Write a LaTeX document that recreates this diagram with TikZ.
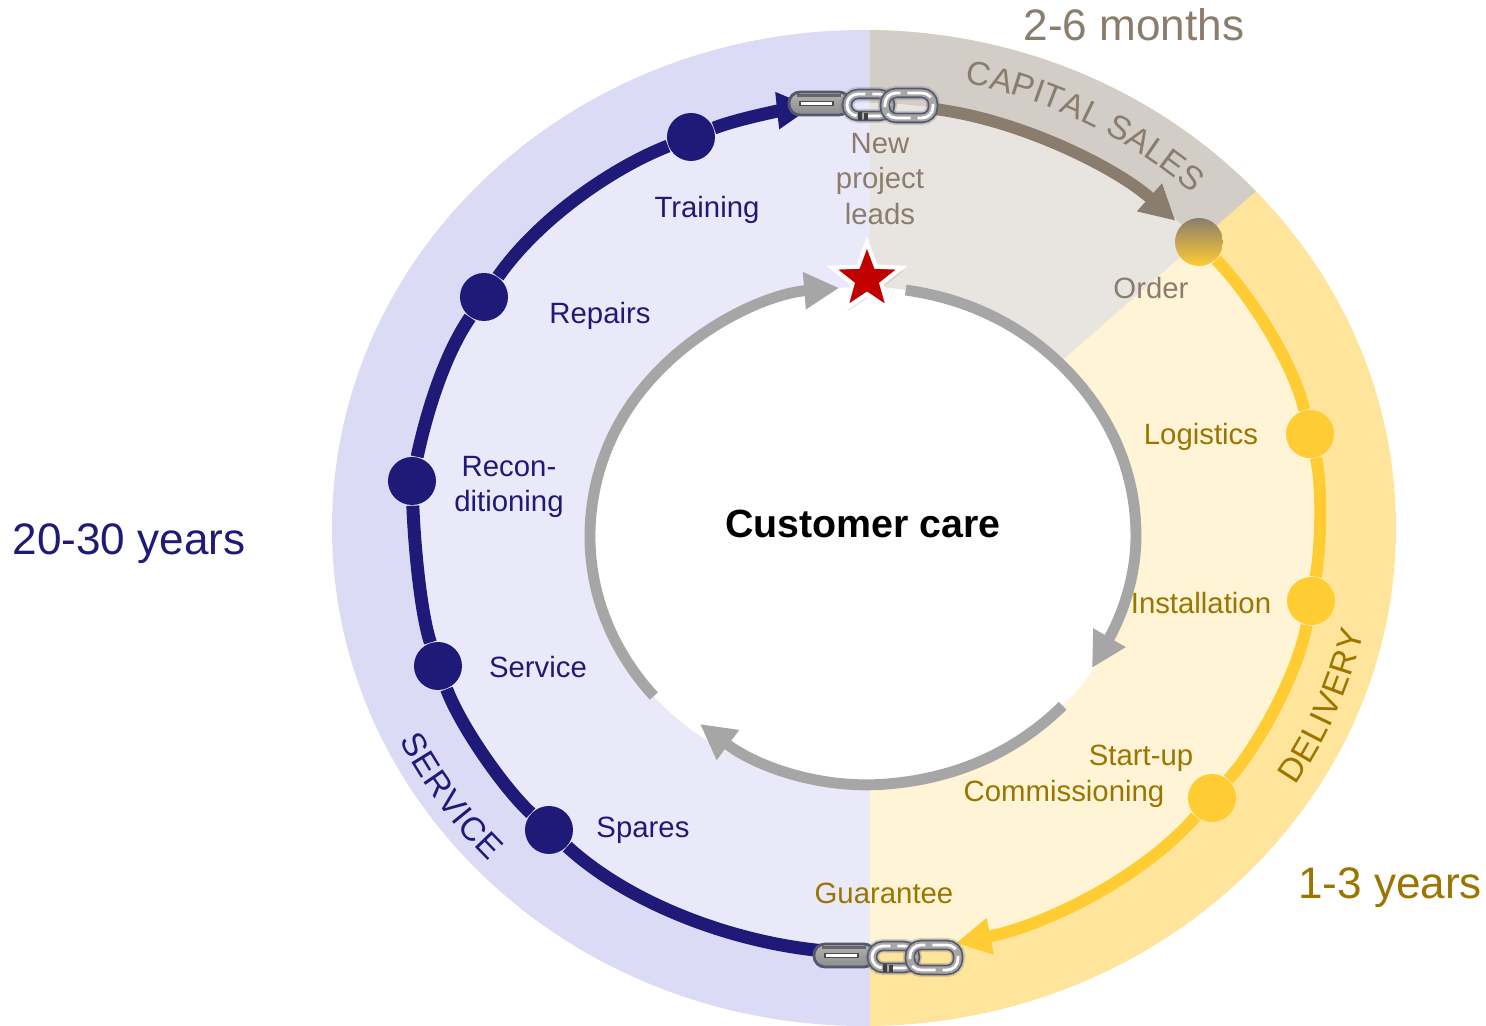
\documentclass[tikz,border=0pt]{standalone}
\usepackage{fontspec}
\setmainfont{Liberation Sans}
\usepackage{xcolor}
\usepackage{tikz}
\usetikzlibrary{shapes.geometric, arrows.meta, shadows, decorations.text}
\definecolor{serviceline}{RGB}{31, 26, 120}
\definecolor{servicedark}{RGB}{220, 219, 245}
\definecolor{servicelight}{RGB}{234, 233, 249}
\definecolor{salesline}{RGB}{139, 125, 109}
\definecolor{salesdark}{RGB}{210, 205, 199}
\definecolor{saleslight}{RGB}{232, 229, 225}
\definecolor{deliveryline}{RGB}{255, 204, 51}
\definecolor{deliverydark}{RGB}{254, 229, 155}
\definecolor{deliverylight}{RGB}{255, 244, 214}
\definecolor{deliverytext}{RGB}{156, 117, 0}
\definecolor{careline}{RGB}{166, 166, 166}
\definecolor{starred}{RGB}{192, 0, 0}
\definecolor{steeldark}{RGB}{84, 88, 110}
\newcommand{\itemfont}{\fontsize{8.35}{10.1}\selectfont}
\newcommand{\spanfont}{\fontsize{12.55}{15}\selectfont}
\newcommand{\phasefont}{\fontsize{9.5}{11}\selectfont}
\tikzstyle{servicedot} = [circle, inner sep=0pt, minimum size=0.48cm, fill=serviceline]
\tikzstyle{deliverydot} = [circle, inner sep=0pt, minimum size=0.48cm, fill=deliveryline]
\tikzstyle{orderdot} = [circle, inner sep=0pt, minimum size=0.48cm, top color=salesline, bottom color=deliveryline]
\tikzstyle{servicetext} = [font=\itemfont, text=serviceline, align=center, inner sep=0pt]
\tikzstyle{salestext} = [font=\itemfont, text=salesline, align=center, inner sep=0pt]
\tikzstyle{deliverytxt} = [font=\itemfont, text=deliverytext, align=center, inner sep=0pt]
\tikzstyle{ringtip} = [-{Triangle[length=3.5mm,width=3.5mm]}]
\tikzstyle{servicearc} = [line width=3.7pt, serviceline]
\tikzstyle{salesarc} = [ringtip, line width=3.4pt, salesline, shorten >=0.07cm]
\tikzstyle{deliveryarc} = [line width=3.4pt, deliveryline]
\tikzstyle{carearc} = [ringtip, line width=3.1pt, careline, looseness=0.9]
\tikzstyle{linkshadow} = [gray, opacity=0.3, line width=4pt, rounded corners=0.11cm]
\tikzstyle{linkedge} = [steeldark, line width=3pt, rounded corners=0.11cm]
\tikzstyle{linkbody} = [black!35, line width=2pt, rounded corners=0.11cm]
\tikzstyle{linkshine} = [white, line width=0.8pt, dash pattern=on 7pt off 2pt, rounded corners=0.11cm]
\tikzset{
  pics/steelchain/.style={code={
    % left link, seen from the side
    \fill[linkshadow] (-0.75,-0.11) rectangle (-0.13,0.13);
    \filldraw[steeldark, top color=black!30, middle color=white, bottom color=black!45, line width=0.8pt, rounded corners=0.11cm] (-0.74,-0.10) rectangle (-0.13,0.13);
    \draw[black!70, fill=white, line width=0.5pt] (-0.63,-0.005) rectangle (-0.30,0.035);
    \draw[black!60, line width=0.9pt] (-0.66,0.095) -- (-0.22,0.095);
    % middle and right link
    \foreach \sty in {linkshadow, linkedge, linkbody, linkshine} {
      \draw[\sty] (-0.16,-0.11) rectangle (0.27,0.11);
    }
    \draw[black!75, line width=1pt] (-0.03,-0.15) -- (-0.03,-0.07) (0.03,-0.15) -- (0.03,-0.08);
    \foreach \sty in {linkshadow, linkedge, linkbody, linkshine} {
      \draw[\sty] (0.22,-0.13) rectangle (0.70,0.12);
    }
  }}
}
\begin{document}
\begin{tikzpicture}
    \useasboundingbox (-8.64,-4.98) rectangle (6.22,5.28);

    % Outer ring
    \begin{scope}
        \clip (0,0) ellipse (5.32 and 4.98);
        \fill[servicedark] (-5.5,-5.1) rectangle (0.06,5.1);
        \fill[deliverydark] (0.06,-5.1) rectangle (5.5,5.1);
        \fill[salesdark] (0.06,0) -- (0.06,5.3) -- (6.1,5.27) -- cycle;
    \end{scope}

    % Inner ring
    \begin{scope}
        \clip (0,0) ellipse (4.53 and 4.25);
        \fill[servicelight] (-5.5,-5.1) rectangle (0.06,5.1);
        \fill[deliverylight] (0.06,-5.1) rectangle (5.5,5.1);
        \fill[saleslight] (0.06,0) -- (0.06,5.3) -- (6.1,5.27) -- cycle;
    \end{scope}
    \fill[white] (-0.01,-0.08) ellipse (2.73 and 2.49);

    % Service dots
    \node[servicedot] (dtraining) at (-1.73, 3.91) {};
    \node[servicedot] (drepairs) at (-3.80, 2.31) {};
    \node[servicedot] (drecon) at (-4.52, 0.47) {};
    \node[servicedot] (dservice) at (-4.26, -1.38) {};
    \node[servicedot] (dspares) at (-3.15, -3.02) {};

    % Delivery dots
    \node[orderdot] (dorder) at (3.35, 2.86) {};
    \node[deliverydot] (dlogistics) at (4.46, 0.94) {};
    \node[deliverydot] (dinstall) at (4.47, -0.73) {};
    \node[deliverydot] (dstartup) at (3.48, -2.70) {};

    % Free ends under the chains
    \coordinate (servicestart) at (-0.39, -4.23);
    \coordinate (servicetip) at (-0.52, 4.21);
    \coordinate (salesstart) at (0.70, 4.19);
    \coordinate (deliverytip) at (0.92, -4.15);

    % Outer arrows
    \draw[servicearc] (servicestart) to[out=175,in=-42.6,looseness=0.81] (dspares);
    \draw[servicearc] (dspares) to[out=137.4,in=-69.8,looseness=0.65] (dservice);
    \draw[servicearc] (dservice) to[out=108,in=-88,looseness=0.62] (drecon);
    \draw[servicearc] (drecon) to[out=78,in=-124.6,looseness=0.78] (drepairs);
    \draw[servicearc] (drepairs) to[out=55.4,in=-158.7,looseness=0.78] (dtraining);
    \draw[servicearc, ringtip] (dtraining) to[out=21.3,in=-174,looseness=0.69] (servicetip);
    \draw[salesarc] (salesstart) to[out=-7,in=138,looseness=0.81] (dorder);
    \draw[deliveryarc] (dorder) to[out=-46,in=103.5,looseness=0.72] (dlogistics);
    \draw[deliveryarc] (dlogistics) to[out=-76.5,in=79.5,looseness=0.61] (dinstall);
    \draw[deliveryarc] (dinstall) to[out=-100.5,in=48.6,looseness=0.7] (dstartup);
    \draw[deliveryarc, ringtip] (dstartup) to[out=-131.4,in=11,looseness=0.81] (deliverytip);

    % Customer care ring
    \coordinate (careh) at (2.28, -1.40);
    \coordinate (carek) at (-1.64, -1.96);
    \begin{scope}[shift={(-0.01,-0.08)}]
        \coordinate (carea) at (220:2.73 and 2.49);
        \coordinate (careb) at (175:2.73 and 2.49);
        \coordinate (carec) at (135:2.73 and 2.49);
        \coordinate (cared) at (95:2.73 and 2.49);
        \coordinate (caree) at (81:2.73 and 2.49);
        \coordinate (caref) at (40:2.73 and 2.49);
        \coordinate (careg) at (0:2.73 and 2.49);
        \coordinate (carei) at (-43:2.73 and 2.49);
        \coordinate (carej) at (-85:2.73 and 2.49);
        \draw[carearc] (carea) to[out=132.6,in=-95.5] (careb) to[out=84.5,in=-137.6] (carec) to[out=42.4,in=-175.4] (cared);
        \draw[carearc] (caree) to[out=-8,in=132.6] (caref) to[out=-47.4,in=90] (careg) to[out=-90,in=60] (careh);
        \draw[carearc] (carei) to[out=-135.6,in=4.6] (carej) to[out=-175.4,in=-37] (carek);
    \end{scope}

    % Star and chains
    \node[star, star points=5, star point ratio=2.4, minimum size=0.73cm, inner sep=0pt, fill=starred, draw=white, line width=1.2pt, drop shadow={opacity=0.2, shadow xshift=0.02cm, shadow yshift=-0.03cm}] (carestar) at (0.03, 2.49) {};
    \pic (chaintop) at (-0.01, 4.23) {steelchain};
    \pic (chainbottom) at (0.24, -4.29) {steelchain};

    % Phase names on the ring
    \path[decorate, decoration={text along path, text align=fit to path, text={|\phasefont\color{salesline}|CAPITAL SALES}}] (78:4.85 and 4.55) arc[start angle=78, end angle=47.5, x radius=4.85, y radius=4.55];
    \path[decorate, decoration={text along path, text align=fit to path, text={|\phasefont\color{deliverytext}|DELIVERY}}] (-32.5:5.12 and 4.80) arc[start angle=-32.5, end angle=-12.5, x radius=5.12, y radius=4.80];
    \path[decorate, decoration={text along path, text align=fit to path, text={|\phasefont\color{serviceline}|SERVICE}}] (206:5.17 and 4.85) arc[start angle=206, end angle=223.5, x radius=5.17, y radius=4.85];

    % Service labels
    \node[servicetext] (ltraining) at (-1.57, 3.18) {Training};
    \node[servicetext] (lrepairs) at (-2.64, 2.12) {Repairs};
    \node[servicetext] (lrecon) at (-3.55, 0.41) {Recon-\\ditioning};
    \node[servicetext] (lservice) at (-3.26, -1.39) {Service};
    \node[servicetext] (lspares) at (-2.21, -3.02) {Spares};

    % Sales labels
    \node[salestext] (lleads) at (0.16, 3.49) {New\\project\\leads};
    \node[salestext] (lorder) at (2.87, 2.40) {Order};

    % Delivery labels
    \node[deliverytxt] (llogistics) at (3.37, 0.91) {Logistics};
    \node[deliverytxt] (linstall) at (3.37, -0.75) {Installation};
    \node[deliverytxt] (lstartup) at (2.77, -2.30) {Start-up};
    \node[deliverytxt] (lcommission) at (2.00, -2.66) {Commissioning};
    \node[deliverytxt] (lguarantee) at (0.20, -3.65) {Guarantee};

    % Centre and durations
    \node[font=\fontsize{11.2}{13}\selectfont\bfseries, inner sep=0pt] (lcare) at (-0.01, 0.04) {Customer care};
    \node[font=\spanfont, text=serviceline, inner sep=0pt] (lservicespan) at (-7.35, -0.16) {20-30 years};
    \node[font=\spanfont, text=deliverytext, inner sep=0pt] (ldeliveryspan) at (5.26, -3.60) {1-3 years};
    \node[font=\spanfont, text=salesline, inner sep=0pt] (lsalesspan) at (2.70, 5.03) {2-6 months};
\end{tikzpicture}
\end{document}
